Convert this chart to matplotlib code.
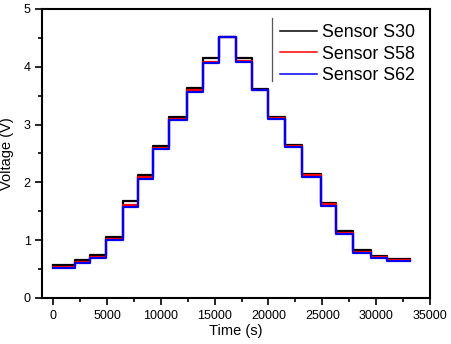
import matplotlib
matplotlib.use("Agg")
import matplotlib.pyplot as plt
from matplotlib.lines import Line2D
from matplotlib.ticker import MultipleLocator

plt.rcParams["font.family"] = ["Liberation Sans", "DejaVu Sans"]

# Step boundaries (s)
edges = [0, 2000, 3400, 4900, 6450, 7900, 9300, 10800, 12400, 13900, 15400,
         17000, 18500, 20000, 21500, 23100, 24900, 26300, 27900, 29500, 31000, 33200]

# Voltage level held in each step (V)
s30 = [0.57, 0.65, 0.74, 1.06, 1.67, 2.13, 2.63, 3.13, 3.63, 4.15, 4.52,
       4.15, 3.61, 3.13, 2.64, 2.15, 1.64, 1.15, 0.83, 0.73, 0.67]
s58 = [0.54, 0.62, 0.71, 1.02, 1.61, 2.09, 2.59, 3.09, 3.59, 4.09, 4.52,
       4.10, 3.60, 3.11, 2.62, 2.12, 1.62, 1.13, 0.80, 0.71, 0.65]
s62 = [0.52, 0.61, 0.69, 1.00, 1.57, 2.06, 2.58, 3.07, 3.57, 4.07, 4.52,
       4.09, 3.59, 3.09, 2.61, 2.10, 1.59, 1.11, 0.78, 0.69, 0.63]

series = [("Sensor S30", s30, "black"),
          ("Sensor S58", s58, "red"),
          ("Sensor S62", s62, "#0000ee")]

fig = plt.figure(figsize=(4.52, 3.44), dpi=100)
ax = fig.add_axes([0.094, 0.134, 0.857, 0.840])

handles = []
for label, vals, color in series:
    ax.step(edges, vals + [vals[-1]], where="post", color=color, lw=1.6)
    handles.append(Line2D([], [], color=color, lw=1.1, label=label))

ax.set_xlim(-1000, 35000)
ax.set_ylim(0, 5)
ax.xaxis.set_major_locator(MultipleLocator(5000))
ax.xaxis.set_minor_locator(MultipleLocator(2500))
ax.yaxis.set_major_locator(MultipleLocator(1))
ax.yaxis.set_minor_locator(MultipleLocator(0.5))
ax.tick_params(which="both", direction="out", top=False, right=False,
               labelsize=9, width=1.2)
ax.tick_params(which="major", length=5)
ax.tick_params(which="minor", length=3)
for sp in ax.spines.values():
    sp.set_linewidth(1.5)

ax.set_xlabel("Time (s)", fontsize=10.5, labelpad=2)
ax.set_ylabel("Voltage (V)", fontsize=10.5, labelpad=7)

ax.legend(handles=handles, loc="upper right", frameon=False, fontsize=12.8,
          handlelength=2.1, handletextpad=0.3, labelspacing=0.26,
          borderaxespad=0.2, bbox_to_anchor=(0.99, 0.985))

# thin vertical rule left of the legend
ax.add_line(Line2D([0.592, 0.592], [0.75, 0.97], transform=ax.transAxes,
                   color="#555555", lw=0.9))

fig.savefig("out.png", dpi=100)
